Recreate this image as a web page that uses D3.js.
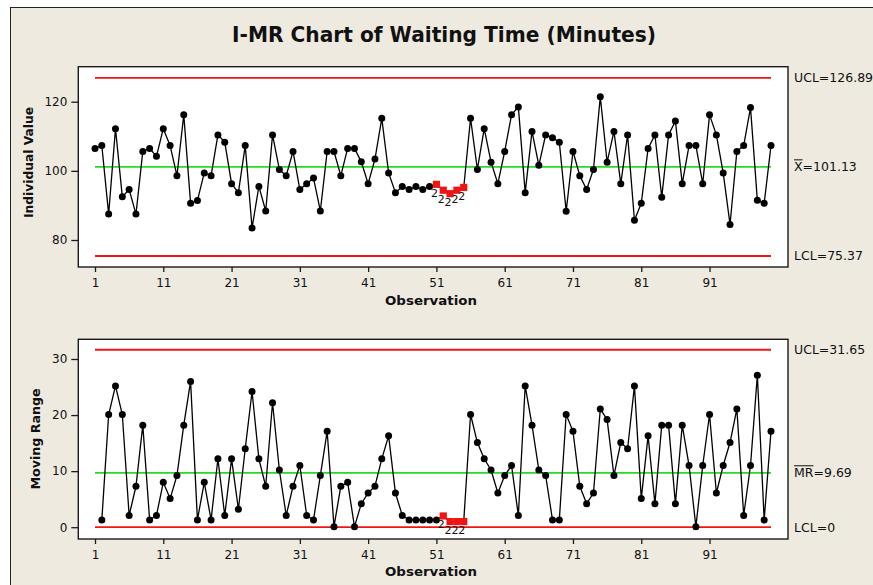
<!DOCTYPE html>
<html>
<head>
<meta charset="utf-8">
<script src="https://cdn.jsdelivr.net/npm/d3@7"></script>
<style>
  html, body { margin: 0; padding: 0; background: #ffffff; }
  svg { display: block; }
  text { font-family: "DejaVu Sans", Verdana, sans-serif; fill: #111; }
</style>
</head>
<body>
<svg id="chart" width="873" height="585"></svg>
<script>
// Individual waiting times (minutes), observations 1..100
const individualValues = [
  106.5, 107.3, 87.5, 112.2, 92.5, 94.6, 87.5, 105.6, 106.5, 104.2,
  112.2, 107.3, 98.6, 116.2, 90.6, 91.4, 99.4, 98.6, 110.4, 108.3,
  96.3, 93.7, 107.3, 83.5, 95.5, 88.4, 110.4, 100.4, 98.6, 105.6,
  94.6, 96.3, 97.9, 88.4, 105.6, 105.6, 98.6, 106.5, 106.5, 102.6,
  96.3, 103.4, 115.2, 99.4, 93.7, 95.5, 94.6, 95.5, 94.6, 95.5,
  96.1, 94.4, 93.4, 94.4, 95.2, 115.2, 100.4, 112.2, 102.5, 96.3,
  105.6, 116.2, 118.5, 93.7, 111.4, 101.6, 110.4, 109.6, 108.3, 88.3,
  105.6, 98.6, 94.6, 100.4, 121.4, 102.5, 111.4, 96.3, 110.4, 85.7,
  90.6, 106.5, 110.4, 92.4, 110.4, 114.4, 96.3, 107.3, 107.3, 96.3,
  116.2, 110.4, 99.4, 84.5, 105.6, 107.3, 118.3, 91.5, 90.6, 107.3
];

// Moving ranges, observations 2..100
const movingRanges = [
  1.3, 20.1, 25.2, 20.1, 2.1, 7.3, 18.2, 1.3, 2.1,
  8.0, 5.1, 9.2, 18.2, 26.0, 1.3, 8.0, 1.3, 12.2, 2.1,
  12.2, 3.2, 14.0, 24.2, 12.2, 7.3, 22.2, 10.2, 2.1, 7.3,
  11.0, 2.1, 1.3, 9.2, 17.1, 0.1, 7.3, 8.0, 0.1, 4.2,
  6.1, 7.3, 12.2, 16.3, 6.1, 2.1, 1.3, 1.3, 1.3, 1.3,
  1.3, 2.0, 1.0, 1.0, 1.0, 20.1, 15.1, 12.2, 10.2, 6.1,
  9.2, 11.0, 2.1, 25.2, 18.2, 10.2, 9.2, 1.3, 1.3, 20.1,
  17.1, 7.3, 4.2, 6.1, 21.1, 19.2, 9.2, 15.1, 14.0, 25.2,
  5.1, 16.3, 4.2, 18.2, 18.2, 4.2, 18.2, 11.0, 0.1, 11.0,
  20.1, 6.1, 11.0, 15.1, 21.1, 2.1, 11.0, 27.1, 1.3, 17.1
];

const xTickValues = [1, 11, 21, 31, 41, 51, 61, 71, 81, 91];
const individualTicks = [80, 100, 120];
const rangeTicks = [0, 10, 20, 30];

// Control limits: [UCL, centre, LCL]
const individualLimits = [126.89, 101.13, 75.37];
const rangeLimits = [31.65, 9.69, 0];
const individualLimitText = ["UCL=126.89", "=101.13", "LCL=75.37"];
const rangeLimitText = ["UCL=31.65", "=9.69", "LCL=0"];
const individualCentreSymbol = "X";
const rangeCentreSymbol = "MR";

// Observations failing test 2 (run on one side of the centre line)
const individualFlags = [51, 52, 53, 54, 55];
const rangeFlags = [52, 53, 54, 55];
const flagLabel = "2";

const titleText = "I-MR Chart of Waiting Time (Minutes)";
const xTitle = "Observation";
const individualTitle = "Individual Value";
const rangeTitle = "Moving Range";

const svg = d3.select("#chart");
const RED = "#f01414", GREEN = "#22dd22", INK = "#1a1a1a";

// page background and outer frame
svg.append("rect").attr("width", 873).attr("height", 585).attr("fill", "#ffffff");
svg.append("rect").attr("x", 10.5).attr("y", 7.5).attr("width", 900).attr("height", 600)
  .attr("fill", "#eeeae0").attr("stroke", "#222").attr("stroke-width", 1);

svg.append("text").attr("x", 444).attr("y", 42).attr("text-anchor", "middle")
  .attr("font-size", 21).attr("font-weight", "bold")
  .attr("textLength", 424).attr("lengthAdjust", "spacingAndGlyphs")
  .text(titleText);

const x = d3.scaleLinear().domain([1, 100]).range([95, 771]);

function panel(opts) {
  const { top, bottom, y, values, firstObs, limits, limitText, centreSymbol,
          ticks, flags, yTitle, yTitleX, yTitleY, yTitleLen, xTitleY } = opts;
  const left = 78.3, right = 788;
  const g = svg.append("g");

  g.append("rect").attr("x", left).attr("y", top).attr("width", right - left)
    .attr("height", bottom - top).attr("fill", "#ffffff");

  // control lines
  const lineColors = [RED, GREEN, RED];
  limits.forEach((v, i) => {
    g.append("line").attr("x1", x(1)).attr("x2", x(100))
      .attr("y1", y(v)).attr("y2", y(v))
      .attr("stroke", lineColors[i]).attr("stroke-width", 1.8);
  });

  const pts = values.map((v, i) => ({ obs: i + firstObs, v }));
  g.append("path").datum(pts)
    .attr("fill", "none").attr("stroke", "#000").attr("stroke-width", 1.3)
    .attr("d", d3.line().x(d => x(d.obs)).y(d => y(d.v)));

  const normal = pts.filter(d => !flags.includes(d.obs));
  const flagged = pts.filter(d => flags.includes(d.obs));
  g.selectAll("circle.pt").data(normal).join("circle")
    .attr("cx", d => x(d.obs)).attr("cy", d => y(d.v)).attr("r", 3.5).attr("fill", "#000");
  g.selectAll("rect.flag").data(flagged).join("rect")
    .attr("x", d => x(d.obs) - 3.6).attr("y", d => y(d.v) - 3.6)
    .attr("width", 7.2).attr("height", 7.2).attr("fill", RED);
  g.selectAll("text.flag").data(flagged).join("text")
    .attr("x", d => x(d.obs) - 2).attr("y", d => y(d.v) + 12.5)
    .attr("text-anchor", "middle").attr("font-size", 11).text(flagLabel);

  // frame
  g.append("rect").attr("x", left).attr("y", top).attr("width", right - left)
    .attr("height", bottom - top).attr("fill", "none")
    .attr("stroke", INK).attr("stroke-width", 1.4);

  // axes
  const ya = g.append("g").attr("transform", `translate(${left},0)`)
    .call(d3.axisLeft(y).tickValues(ticks).tickSize(7).tickPadding(4).tickSizeOuter(0));
  const xa = g.append("g").attr("transform", `translate(0,${bottom})`)
    .call(d3.axisBottom(x).tickValues(xTickValues).tickSize(5).tickPadding(6).tickSizeOuter(0));
  [ya, xa].forEach(a => {
    a.select(".domain").remove();
    a.selectAll(".tick line").attr("stroke", INK).attr("stroke-width", 1.3);
    a.selectAll(".tick text").attr("font-size", 12).attr("fill", "#111")
      .attr("font-family", '"DejaVu Sans", Verdana, sans-serif');
  });

  // limit labels on the right
  const lx = 794;
  [0, 2].forEach(i => {
    g.append("text").attr("x", lx).attr("y", y(limits[i]) + 4.4)
      .attr("font-size", 12.5).text(limitText[i]);
  });
  const cy = y(limits[1]) + 4.4;
  const sym = g.append("text").attr("x", lx).attr("y", cy).attr("font-size", 12.5).text(centreSymbol);
  const w = sym.node().getComputedTextLength();
  g.append("line").attr("x1", lx).attr("x2", lx + w).attr("y1", cy - 11.5).attr("y2", cy - 11.5)
    .attr("stroke", "#111").attr("stroke-width", 1);
  g.append("text").attr("x", lx + w).attr("y", cy).attr("font-size", 12.5).text(limitText[1]);

  // axis titles
  g.append("text").attr("transform", `translate(${yTitleX},${yTitleY}) rotate(-90)`)
    .attr("text-anchor", "middle").attr("font-size", 12).attr("font-weight", "bold")
    .attr("textLength", yTitleLen).attr("lengthAdjust", "spacingAndGlyphs")
    .text(yTitle);
  g.append("text").attr("x", 431).attr("y", xTitleY).attr("text-anchor", "middle")
    .attr("font-size", 13).attr("font-weight", "bold")
    .attr("textLength", 92).attr("lengthAdjust", "spacingAndGlyphs")
    .text(xTitle);
}

panel({
  top: 66.7, bottom: 267,
  y: d3.scaleLinear().domain([80, 120]).range([240, 101.7]),
  values: individualValues, firstObs: 1,
  limits: individualLimits, limitText: individualLimitText, centreSymbol: individualCentreSymbol,
  ticks: individualTicks, flags: individualFlags,
  yTitle: individualTitle, yTitleX: 33, yTitleY: 162.5, yTitleLen: 111, xTitleY: 305
});

panel({
  top: 339.3, bottom: 539,
  y: d3.scaleLinear().domain([0, 30]).range([527.2, 359]),
  values: movingRanges, firstObs: 2,
  limits: rangeLimits, limitText: rangeLimitText, centreSymbol: rangeCentreSymbol,
  ticks: rangeTicks, flags: rangeFlags,
  yTitle: rangeTitle, yTitleX: 40, yTitleY: 439, yTitleLen: 101, xTitleY: 575.5
});
</script>
</body>
</html>
